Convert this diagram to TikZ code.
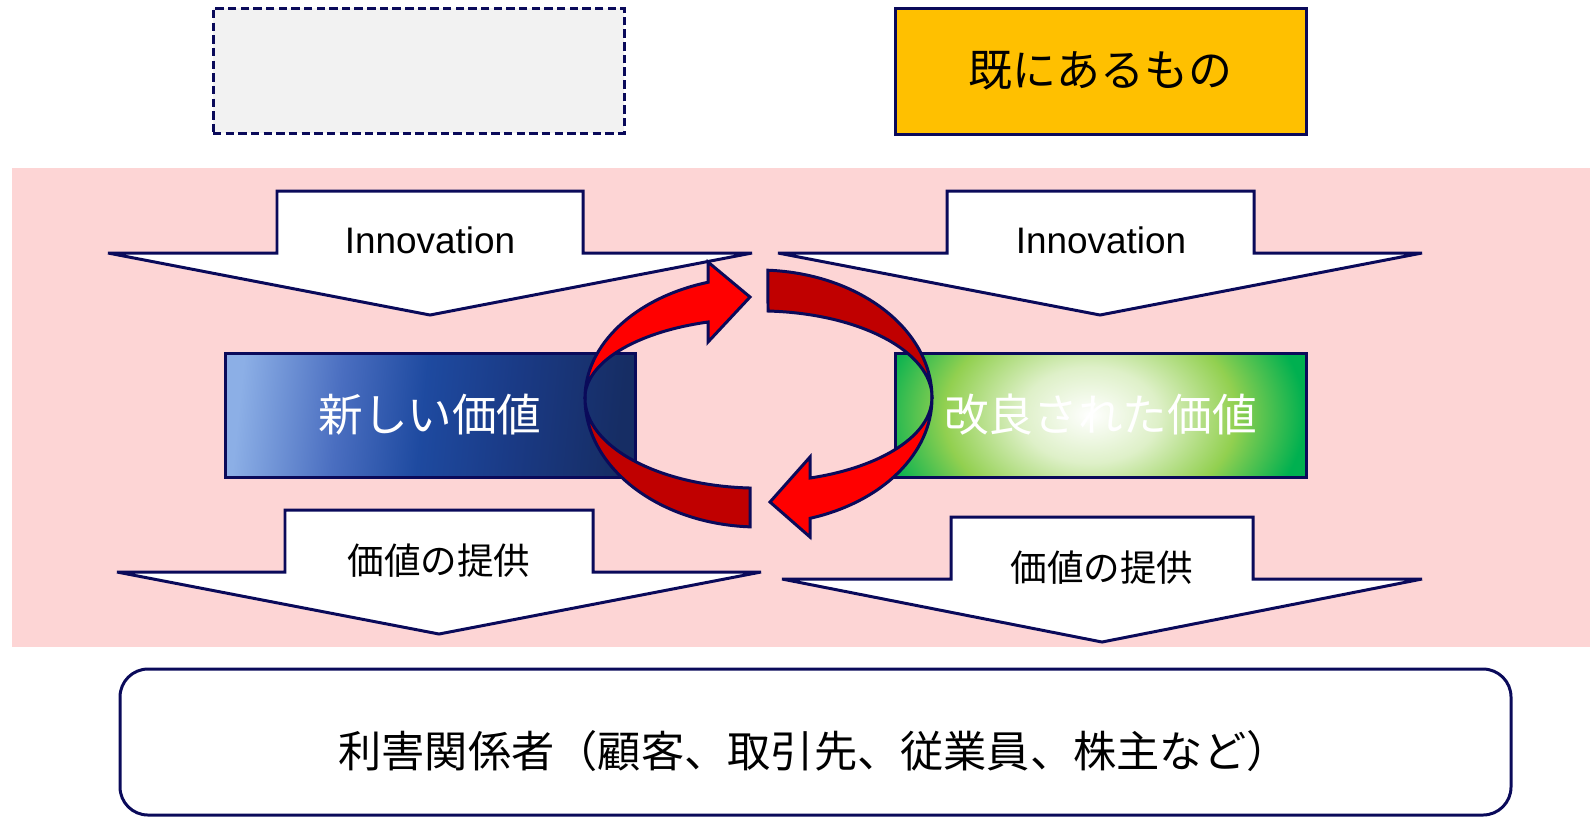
\documentclass[tikz,border=0pt]{standalone}
\usepackage{fontspec}
\setmainfont{Liberation Sans}
\newfontfamily\jpfont{Noto Sans CJK JP}
\definecolor{navyline}{RGB}{10,10,90}
\definecolor{bandpink}{RGB}{253,213,213}
\definecolor{blankgrey}{RGB}{242,242,242}
\definecolor{gold}{RGB}{255,192,0}
\definecolor{lblue}{RGB}{140,175,230}
\definecolor{sblue}{RGB}{74,110,192}
\definecolor{mblue}{RGB}{30,74,160}
\definecolor{nblue}{RGB}{26,58,133}
\definecolor{dblue}{RGB}{22,45,100}
\definecolor{glowgreen}{RGB}{222,240,200}
\definecolor{lgreen}{RGB}{146,208,80}
\definecolor{dgreen}{RGB}{0,176,80}
\definecolor{ribbonred}{RGB}{255,0,0}
\definecolor{ribbondark}{RGB}{192,0,0}
\pgfdeclarehorizontalshading{bluegrad}{100bp}{color(0bp)=(lblue); color(25bp)=(lblue); color(38bp)=(sblue); color(49bp)=(mblue); color(61bp)=(nblue); color(75bp)=(dblue); color(100bp)=(dblue)}
\pgfdeclareradialshading{greenglow}{\pgfpoint{0bp}{0bp}}{color(0bp)=(white); color(8bp)=(glowgreen); color(17bp)=(lgreen); color(25bp)=(dgreen); color(50bp)=(dgreen)}
\begin{document}
\begin{tikzpicture}[x=0.1mm,y=-0.1mm,
	outline/.style={draw=navyline,line width=0.85pt},
	blockarrow/.style={outline,fill=white,line join=miter},
	ribbonfront/.style={outline,fill=ribbonred,line join=miter},
	ribbonback/.style={outline,fill=ribbondark,line join=miter},
	valuebox/.style={outline,minimum width=41mm,minimum height=12.4mm,inner sep=0pt},
	innolabel/.style={font=\fontsize{10.5}{12}\selectfont},
	givelabel/.style={font=\jpfont\fontsize{10.4}{12}\selectfont},
	boxlabel/.style={font=\jpfont\fontsize{12.5}{14}\selectfont}]
			\useasboundingbox (0,0) rectangle (1590,818);
			\fill[bandpink] (12,168) rectangle (1590,647);
			\node (blank) [valuebox,dashed,dash pattern=on 2.4pt off 1.2pt,fill=blankgrey,minimum width=41.1mm,minimum height=12.5mm] at (418.5,70.5) {};
			\node (existing) [valuebox,fill=gold,minimum width=41.1mm,minimum height=12.6mm,boxlabel] at (1100.5,71) {既にあるもの};
			\draw[blockarrow] (277,191)--(583,191)--(583,253)--(752,253)--(430,315)--(108,253)--(277,253)--cycle;
			\draw[blockarrow] (947,191)--(1254,191)--(1254,253)--(1422,253)--(1100,315)--(778,253)--(947,253)--cycle;
			\draw[blockarrow] (285,510)--(593,510)--(593,572)--(761,572)--(439,634)--(117,572)--(285,572)--cycle;
			\draw[blockarrow] (951,517)--(1253,517)--(1253,579)--(1422,579)--(1102,642)--(782,579)--(951,579)--cycle;
			\node (innoL) [innolabel] at (430,240) {Innovation};
			\node (innoR) [innolabel] at (1101,240) {Innovation};
			\node (giveL) [givelabel] at (439,561) {価値の提供};
			\node (giveR) [givelabel] at (1102,568) {価値の提供};
			\node (newvalue) [valuebox,shade,shading=bluegrad,shading angle=-6,text=white,font=\jpfont\fontsize{12.7}{14}\selectfont] at (430,415) {新しい価値};
			\begin{scope}
				\clip (895,353) rectangle (1306,477);
				\shade[shading=greenglow] (875,265) rectangle (1305,565);
			\end{scope}
			\node (improved) [valuebox,minimum width=41.1mm,text=white,font=\jpfont\fontsize{12.7}{14}\selectfont] at (1100.5,415) {改良された価値};
			\draw[ribbonback] (585,398) arc[start angle=180,end angle=92.8,x radius=173.5,y radius=129]--(750,488) arc[start angle=92.8,end angle=180,x radius=173.5,y radius=90]--cycle;
			\draw[ribbonfront] (585,398) arc[start angle=180,end angle=253.1,x radius=173.5,y radius=121]--(708,262)--(750,297)--(708,342)--(708,322) arc[start angle=253.1,end angle=180,x radius=173.5,y radius=79.4]--cycle;
			\draw[ribbonback] (932,398) arc[start angle=0,end angle=-86.9,x radius=173.5,y radius=128]--(768,311) arc[start angle=-86.9,end angle=0,x radius=173.5,y radius=87]--cycle;
			\draw[ribbonfront] (932,398) arc[start angle=0,end angle=72.7,x radius=173.5,y radius=126]--(810,537)--(770,502)--(810,457)--(810,478) arc[start angle=72.7,end angle=0,x radius=173.5,y radius=84]--cycle;
			\node (stakeholders) [outline,rounded corners=2.8mm,minimum width=139.1mm,minimum height=14.6mm] at (815.5,742) {};
			\node (stakelabel) [font=\jpfont\fontsize{12.3}{14}\selectfont] at (814,751) {利害関係者（顧客、取引先、従業員、株主など）};
\end{tikzpicture}
\end{document}
